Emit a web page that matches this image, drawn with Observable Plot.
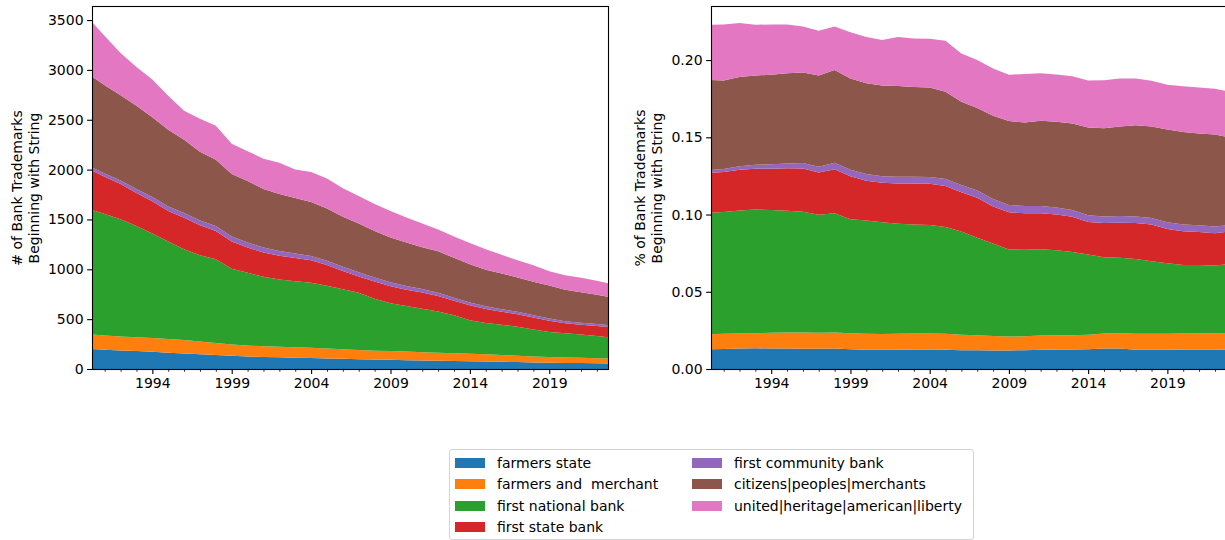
<!DOCTYPE html>
<html><head><meta charset="utf-8">
<script src="https://cdn.jsdelivr.net/npm/d3@7"></script>
<script src="https://cdn.jsdelivr.net/npm/@observablehq/plot@0.6"></script>
<style>
html,body{margin:0;padding:0;background:#fff;overflow:hidden;width:1225px;height:540px;}
#root{position:relative;width:1225px;height:540px;overflow:hidden;font-family:"DejaVu Sans",sans-serif;}
.chart{position:absolute;top:0;}
#legend{position:absolute;left:449px;top:449px;width:525px;height:91px;border:1px solid #d4d4d4;border-radius:3px;box-sizing:border-box;font-size:14px;color:#000;}
.item{position:absolute;height:20px;line-height:20px;white-space:pre;}
.sw{position:absolute;left:0;top:5px;width:30px;height:10px;}
.lt{position:absolute;left:42px;top:0;}
</style>
</head><body><div id="root"></div>
<script>
const years = [1990.2,1991,1992,1993,1994,1995,1996,1997,1998,1999,2000,2001,2002,2003,2004,2005,2006,2007,2008,2009,2010,2011,2012,2013,2014,2015,2016,2017,2018,2019,2020,2021,2022,2022.7];
const seriesNames = ["farmers state","farmers and  merchant","first national bank","first state bank","first community bank","citizens|peoples|merchants","united|heritage|american|liberty"];
const colors = ["#1f77b4","#ff7f0e","#2ca02c","#d62728","#9467bd","#8c564b","#e377c2"];
const majorYears = [1994,1999,2004,2009,2014,2019];
const minorYears = [1991,1992,1993,1995,1996,1997,1998,2000,2001,2002,2003,2005,2006,2007,2008,2010,2011,2012,2013,2015,2016,2017,2018,2020,2021,2022];
const countTicks = [0,500,1000,1500,2000,2500,3000,3500];
const shareTicks = [0,0.05,0.10,0.15,0.20];

// counts (left chart)
const cntFarmersState = [200,192,185,180,172,163,155,148,140,132,125,120,117,113,110,106,102,98,95,92,89,86,84,81,78,76,73,69,66,63,61,59,57,56];
const cntFarmersMerchant = [145,143,140,138,138,137,135,127,122,113,110,108,105,105,104,99,96,92,89,88,86,82,78,76,74,72,67,64,60,57,55,53,51,49];
const cntFirstNational = [1250,1220,1177,1117,1048,980,910,865,838,760,730,697,676,662,650,630,601,575,521,480,457,437,416,383,338,314,305,292,269,252,242,233,222,213];
const cntFirstState = [397,374,353,331,325,305,318,301,285,275,253,244,238,233,226,207,185,164,173,170,162,162,154,144,149,140,128,125,121,112,101,98,102,104];
const cntFirstCommunity = [28,31,35,39,42,45,47,49,50,50,50,49,47,45,44,43,42,41,40,40,38,36,33,31,29,28,27,25,24,22,21,20,20,19];
const cntCitizens = [915,885,855,835,800,770,735,690,665,625,617,587,572,557,541,525,502,490,467,450,438,417,415,400,382,365,358,343,336,332,315,307,293,284];
const cntUnited = [545,495,425,390,380,340,290,330,340,305,300,305,315,285,300,300,284,275,270,265,250,240,220,215,215,205,187,172,164,142,145,145,140,135];

// shares (right chart)
const shrFarmersState = [.0128,.0130,.0132,.0134,.0133,.0133,.0131,.0131,.0132,.0128,.0125,.0124,.0125,.0126,.0126,.0124,.0122,.0121,.0120,.0120,.0122,.0125,.0126,.0126,.0128,.0133,.0132,.0125,.0124,.0125,.0126,.0126,.0126,.0125];
const shrFarmersMerchant = [.0097,.0098,.0098,.0098,.0102,.0104,.0105,.0104,.0105,.0104,.0103,.0103,.0104,.0104,.0104,.0104,.0100,.0097,.0093,.0090,.0090,.0092,.0093,.0093,.0094,.0097,.0100,.0103,.0104,.0104,.0104,.0104,.0105,.0107];
const shrFirstNational = [.0787,.0788,.0796,.0801,.0795,.0788,.0782,.0763,.0771,.0738,.0734,.0723,.0711,.0705,.0702,.0692,.0668,.0632,.0599,.0564,.0560,.0558,.0549,.0539,.0520,.0493,.0489,.0484,.0470,.0456,.0443,.0443,.0439,.0445];
const shrFirstState = [.0259,.0260,.0264,.0264,.0267,.0274,.0280,.0274,.0285,.0278,.0257,.0255,.0261,.0266,.0267,.0265,.0255,.0258,.0240,.0240,.0236,.0234,.0232,.0228,.0209,.0222,.0226,.0233,.0237,.0222,.0219,.0214,.0209,.0210];
const shrFirstCommunity = [.0017,.0019,.0022,.0025,.0028,.0031,.0035,.0038,.0042,.0042,.0043,.0043,.0044,.0044,.0044,.0045,.0046,.0047,.0048,.0048,.0047,.0046,.0045,.0044,.0044,.0043,.0043,.0043,.0043,.0043,.0043,.0043,.0043,.0043];
const shrCitizens = [.0583,.0573,.0578,.0578,.0580,.0584,.0587,.0590,.0600,.0590,.0588,.0587,.0587,.0581,.0580,.0565,.0539,.0535,.0540,.0543,.0540,.0552,.0555,.0560,.0568,.0570,.0580,.0590,.0592,.0600,.0600,.0595,.0596,.0574];
const shrUnited = [.0357,.0362,.0350,.0328,.0326,.0316,.0298,.0290,.0283,.0300,.0300,.0295,.0318,.0314,.0315,.0330,.0313,.0310,.0305,.0300,.0315,.0307,.0306,.0305,.0305,.0312,.0310,.0302,.0296,.0290,.0295,.0298,.0297,.0296];

const countSeries = [cntFarmersState,cntFarmersMerchant,cntFirstNational,cntFirstState,cntFirstCommunity,cntCitizens,cntUnited];
const shareSeries = [shrFarmersState,shrFarmersMerchant,shrFirstNational,shrFirstState,shrFirstCommunity,shrCitizens,shrUnited];

function toRows(arrs){
  const rows=[];
  seriesNames.forEach((s,i)=>years.forEach((yr,j)=>rows.push({year:yr,series:s,value:arrs[i][j]})));
  return rows;
}

function chart(arrs, yMax, yTicks, yFmt, label, marginLeft, marginRight, labelDx){
  return Plot.plot({
    width: 620, height: 400,
    marginTop: 6, marginBottom: 31, marginLeft, marginRight,
    style: {fontFamily: "DejaVu Sans, sans-serif", fontSize: "14px", color: "black", background: "white", overflow: "visible"},
    x: {domain: [1990.2, 2022.7]},
    y: {domain: [0, yMax]},
    color: {domain: seriesNames, range: colors},
    marks: [
      Plot.areaY(toRows(arrs), {x: "year", y: "value", fill: "series", order: seriesNames, curve: "linear"}),
      Plot.axisX({ticks: minorYears, tickFormat: () => "", tickSize: 2.8, label: null, strokeWidth: 0.8}),
      Plot.axisX({ticks: majorYears, tickFormat: d => String(d), tickSize: 4.9, tickPadding: 4, label: null, strokeWidth: 1.1}),
      Plot.axisY({ticks: yTicks, tickFormat: yFmt, tickSize: 4.9, tickPadding: 4, label: null, strokeWidth: 1.1}),
      Plot.frame({stroke: "black", strokeWidth: 1.1}),
      Plot.text([label], {frameAnchor: "left", textAnchor: "middle", lineAnchor: "middle", rotate: -90, dx: labelDx, fontSize: 14, lineHeight: 1.2, fill: "black"})
    ]
  });
}

const root = document.getElementById("root");
const left = chart(countSeries, 3641, countTicks, d => String(d), "# of Bank Trademarks\nBeginning with String", 92, 12, -67);
left.classList.add("chart"); left.style.left = "0px";
root.appendChild(left);
const right = chart(shareSeries, 0.235, shareTicks, d3.format(".2f"), "% of Bank Trademarks\nBeginning with String", 91, 14, -63);
right.classList.add("chart"); right.style.left = "620px";
root.appendChild(right);

const legend = document.createElement("div");
legend.id = "legend";
seriesNames.forEach((s,i)=>{
  const col = i < 4 ? 0 : 1, row = i < 4 ? i : i - 4;
  const it = document.createElement("div");
  it.className = "item";
  it.style.left = (col === 0 ? 5 : 242) + "px";
  it.style.top = (3 + row * 21.3) + "px";
  it.innerHTML = `<div class="sw" style="background:${colors[i]}"></div><div class="lt"></div>`;
  it.querySelector(".lt").textContent = s;
  legend.appendChild(it);
});
root.appendChild(legend);
</script></body></html>
